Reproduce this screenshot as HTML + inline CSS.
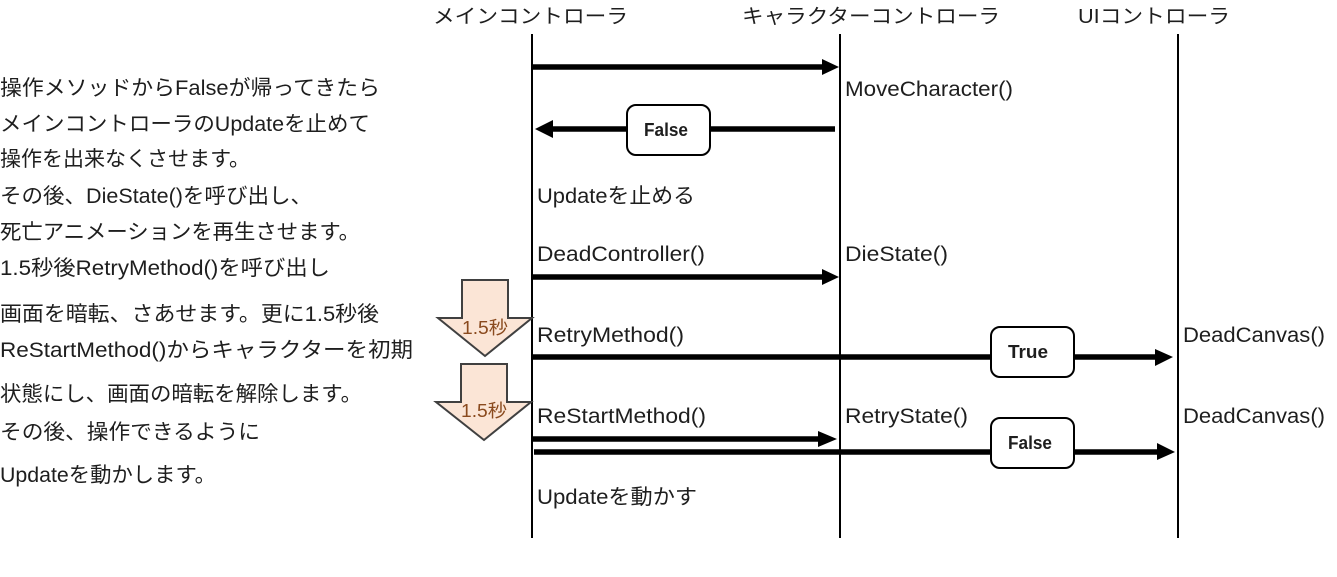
<!DOCTYPE html>
<html>
<head>
<meta charset="utf-8">
<style>
  html, body { margin: 0; padding: 0; background: #ffffff; }
  body { width: 1337px; height: 577px; overflow: hidden; }
  svg { display: block; }
  text { font-family: "Liberation Sans", "Noto Sans CJK JP", sans-serif; fill: #1e1e1e; }
</style>
</head>
<body>
<svg width="1337" height="577" viewBox="0 0 1337 577" xmlns="http://www.w3.org/2000/svg">
  <rect x="0" y="0" width="1337" height="577" fill="#ffffff"/>

  <!-- Headers -->
  <text x="433" y="23" font-size="20" textLength="195" lengthAdjust="spacingAndGlyphs">メインコントローラ</text>
  <text x="742" y="23" font-size="20" textLength="258" lengthAdjust="spacingAndGlyphs">キャラクターコントローラ</text>
  <text x="1078" y="23" font-size="20" textLength="152" lengthAdjust="spacingAndGlyphs">UIコントローラ</text>

  <!-- Lifelines -->
  <line x1="532" y1="34" x2="532" y2="538" stroke="#000" stroke-width="2"/>
  <line x1="840" y1="34" x2="840" y2="538" stroke="#000" stroke-width="2"/>
  <line x1="1178" y1="34" x2="1178" y2="538" stroke="#000" stroke-width="2"/>

  <!-- Arrow 1: MoveCharacter -->
  <line x1="533" y1="67" x2="824" y2="67" stroke="#000" stroke-width="5.5"/>
  <polygon points="822,59 839,67 822,75" fill="#000"/>
  <text x="845" y="96" font-size="21" textLength="168" lengthAdjust="spacingAndGlyphs">MoveCharacter()</text>

  <!-- Arrow 2: back False -->
  <line x1="835" y1="129" x2="551" y2="129" stroke="#000" stroke-width="5.5"/>
  <polygon points="553,120 535,129 553,138" fill="#000"/>
  <rect x="627" y="105" width="83" height="50" rx="9" ry="9" fill="#fff" stroke="#000" stroke-width="2"/>
  <text x="644" y="136" font-size="18" font-weight="bold" textLength="44" lengthAdjust="spacingAndGlyphs">False</text>

  <!-- Update stop -->
  <text x="537" y="203" font-size="21" textLength="158" lengthAdjust="spacingAndGlyphs">Updateを止める</text>

  <!-- DeadController -->
  <text x="537" y="261" font-size="21" textLength="168" lengthAdjust="spacingAndGlyphs">DeadController()</text>
  <text x="845" y="261" font-size="21" textLength="103" lengthAdjust="spacingAndGlyphs">DieState()</text>
  <line x1="533" y1="277" x2="824" y2="277" stroke="#000" stroke-width="5.5"/>
  <polygon points="822,269 839,277 822,285" fill="#000"/>

  <!-- RetryMethod -->
  <text x="537" y="342" font-size="21" textLength="147" lengthAdjust="spacingAndGlyphs">RetryMethod()</text>
  <text x="1183" y="342" font-size="21" textLength="142" lengthAdjust="spacingAndGlyphs">DeadCanvas()</text>
  <line x1="533" y1="357" x2="1158" y2="357" stroke="#000" stroke-width="5.5"/>
  <polygon points="1155,349 1173,357 1155,366" fill="#000"/>
  <rect x="991" y="327" width="83" height="50" rx="9" ry="9" fill="#fff" stroke="#000" stroke-width="2"/>
  <text x="1008" y="358" font-size="18" font-weight="bold" textLength="40" lengthAdjust="spacingAndGlyphs">True</text>

  <!-- ReStartMethod -->
  <text x="537" y="423" font-size="21" textLength="169" lengthAdjust="spacingAndGlyphs">ReStartMethod()</text>
  <text x="845" y="423" font-size="21" textLength="123" lengthAdjust="spacingAndGlyphs">RetryState()</text>
  <text x="1183" y="423" font-size="21" textLength="142" lengthAdjust="spacingAndGlyphs">DeadCanvas()</text>
  <line x1="533" y1="439" x2="820" y2="439" stroke="#000" stroke-width="5.5"/>
  <polygon points="818,431 837,439 818,447" fill="#000"/>
  <line x1="534" y1="452" x2="1160" y2="452" stroke="#000" stroke-width="5.5"/>
  <polygon points="1157,443 1175,452 1157,460" fill="#000"/>
  <rect x="991" y="418" width="83" height="50" rx="9" ry="9" fill="#fff" stroke="#000" stroke-width="2"/>
  <text x="1008" y="449" font-size="18" font-weight="bold" textLength="44" lengthAdjust="spacingAndGlyphs">False</text>

  <!-- Update move -->
  <text x="537" y="504" font-size="21" textLength="160" lengthAdjust="spacingAndGlyphs">Updateを動かす</text>

  <!-- Down arrows -->
  <polygon points="462,280 508,280 508,318 532,318 485,356 438,318 462,318" fill="#fbe5d6" stroke="#404040" stroke-width="2" stroke-linejoin="miter"/>
  <text x="462" y="334" font-size="18" textLength="46" lengthAdjust="spacingAndGlyphs" style="fill:#8a4a1e">1.5秒</text>
  <polygon points="461,364 507,364 507,402 531,402 484,440 436,402 461,402" fill="#fbe5d6" stroke="#404040" stroke-width="2" stroke-linejoin="miter"/>
  <text x="461" y="417" font-size="18" textLength="46" lengthAdjust="spacingAndGlyphs" style="fill:#8a4a1e">1.5秒</text>

  <!-- Left description -->
  <text x="0" y="95" font-size="21" textLength="380" lengthAdjust="spacingAndGlyphs">操作メソッドからFalseが帰ってきたら</text>
  <text x="0" y="131" font-size="21" textLength="370" lengthAdjust="spacingAndGlyphs">メインコントローラのUpdateを止めて</text>
  <text x="0" y="166" font-size="21" textLength="250" lengthAdjust="spacingAndGlyphs">操作を出来なくさせます。</text>
  <text x="0" y="203" font-size="21" textLength="312" lengthAdjust="spacingAndGlyphs">その後、DieState()を呼び出し、</text>
  <text x="0" y="239" font-size="21" textLength="360" lengthAdjust="spacingAndGlyphs">死亡アニメーションを再生させます。</text>
  <text x="0" y="275" font-size="21" textLength="330" lengthAdjust="spacingAndGlyphs">1.5秒後RetryMethod()を呼び出し</text>
  <text x="0" y="321" font-size="21" textLength="379" lengthAdjust="spacingAndGlyphs">画面を暗転、さあせます。更に1.5秒後</text>
  <text x="0" y="357" font-size="21" textLength="413" lengthAdjust="spacingAndGlyphs">ReStartMethod()からキャラクターを初期</text>
  <text x="0" y="401" font-size="21" textLength="362" lengthAdjust="spacingAndGlyphs">状態にし、画面の暗転を解除します。</text>
  <text x="0" y="439" font-size="21" textLength="260" lengthAdjust="spacingAndGlyphs">その後、操作できるように</text>
  <text x="0" y="482" font-size="21" textLength="216" lengthAdjust="spacingAndGlyphs">Updateを動かします。</text>
</svg>
</body>
</html>
